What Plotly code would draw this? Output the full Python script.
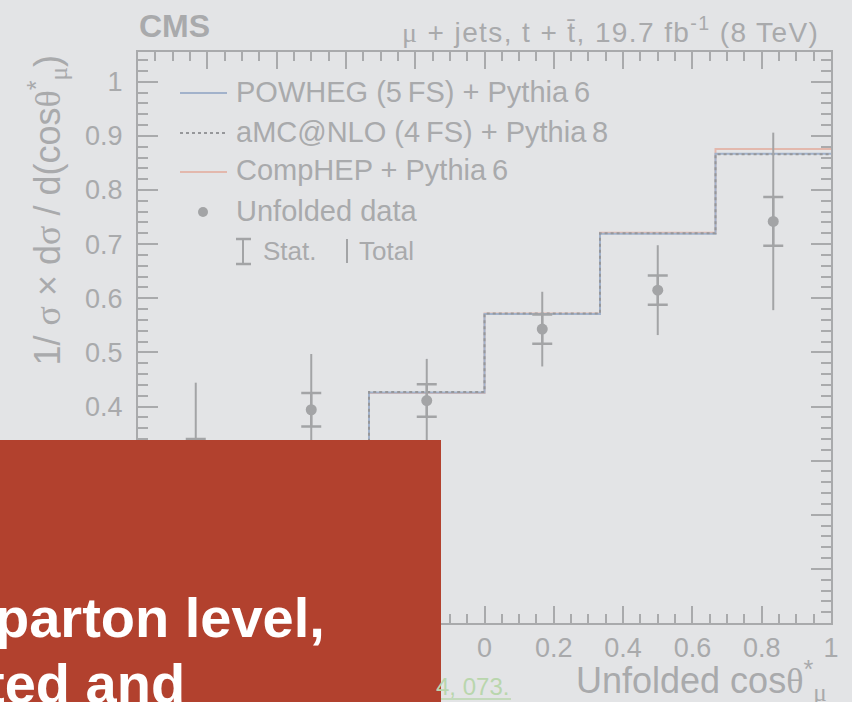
import plotly.graph_objects as go

# ---------------- data ----------------
bin_edges = [-1, -2/3, -1/3, 0, 1/3, 2/3, 1]
powheg = [0.140, 0.285, 0.426, 0.571, 0.719, 0.867]
amcnlo = [0.141, 0.286, 0.427, 0.572, 0.720, 0.866]
comphep = [0.132, 0.280, 0.425, 0.572, 0.721, 0.876]
data_x = [-5/6, -1/2, -1/6, 1/6, 1/2, 5/6]
data_y = [0.280, 0.394, 0.411, 0.543, 0.615, 0.742]
stat_err = [0.060, 0.031, 0.030, 0.027, 0.027, 0.045]
total_err = [0.164, 0.103, 0.077, 0.069, 0.083, 0.164]

# ---------------- styles ----------------
W, H = 852, 702
ML, MR, MT, MB = 138, 21, 52, 79
BG = '#e3e4e6'
GRAY = '#a9aaac'
DGRAY = '#a3a4a6'
BLUE = '#a2b2cb'
RED = '#e3b8ad'
DOT = '#96979a'
BOX = '#b2412e'
FONT = 'Liberation Sans, Arial, Helvetica, sans-serif'
SERIF = 'Liberation Serif'

def gk(s):
    return f"<span style=\"font-family:{SERIF}\">{s}</span>"

def px(x):
    return (x - ML) / (W - ML - MR)

def py(y):
    return (H - MB - y) / (H - MT - MB)

fig = go.Figure()

def step(vals):
    return list(vals) + [vals[-1]]

fig.add_trace(go.Scatter(x=bin_edges, y=step(comphep), mode='lines', line_shape='hv',
                         line=dict(color=RED, width=2), showlegend=False, hoverinfo='skip'))
fig.add_trace(go.Scatter(x=bin_edges, y=step(powheg), mode='lines', line_shape='hv',
                         line=dict(color=BLUE, width=2), showlegend=False, hoverinfo='skip'))
fig.add_trace(go.Scatter(x=bin_edges, y=step(amcnlo), mode='lines', line_shape='hv',
                         line=dict(color=DOT, width=2, dash='dot'), showlegend=False, hoverinfo='skip'))
# total uncertainty
fig.add_trace(go.Scatter(x=data_x, y=data_y, mode='markers', marker=dict(size=1, color='rgba(0,0,0,0)'),
                         error_y=dict(type='data', array=total_err, visible=True, color=DGRAY,
                                      thickness=2, width=0),
                         showlegend=False, hoverinfo='skip'))
# stat uncertainty + points
fig.add_trace(go.Scatter(x=data_x, y=data_y, mode='markers', marker=dict(size=11, color=DGRAY),
                         error_y=dict(type='data', array=stat_err, visible=True, color=DGRAY,
                                      thickness=2.5, width=10),
                         showlegend=False, hoverinfo='skip'))

axis_common = dict(showline=True, linecolor=GRAY, linewidth=2, mirror='allticks',
                   ticks='inside', tickcolor=GRAY, tickwidth=2, showgrid=False, zeroline=False,
                   tickfont=dict(family=FONT, size=27, color=GRAY))

fig.update_xaxes(range=[-1, 1], dtick=0.2, tick0=-1, ticklen=17, ticklabelstandoff=0,
                 minor=dict(dtick=0.05, tick0=-1, ticks='inside', ticklen=9, tickcolor=GRAY, tickwidth=2),
                 **axis_common)
fig.update_yaxes(range=[0, 1.055], dtick=0.1, tick0=0, ticklen=20, ticklabelstandoff=8,
                 minor=dict(dtick=0.02, tick0=0, ticks='inside', ticklen=10, tickcolor=GRAY, tickwidth=2),
                 **axis_common)

ann = []
shapes = []

def text(x, y, s, size, color=GRAY, xanchor='left', yanchor='middle', bold=False, angle=0, family=FONT):
    if bold:
        s = f"<b>{s}</b>"
    ann.append(dict(x=px(x), y=py(y), xref='paper', yref='paper', text=s, showarrow=False,
                    xanchor=xanchor, yanchor=yanchor, textangle=angle,
                    font=dict(family=family, size=size, color=color)))

# titles
text(137, 26, 'CMS', 32, bold=True)
text(821, 30, "<span style=\"letter-spacing:1.4px\">" + f"{gk('μ')} + jets, t + t\u0304, 19.7 fb<sup>-1</sup> (8 TeV)" + "</span>",
     28, xanchor='right')
text(47, 52, f"1/ {gk('σ')} × d{gk('σ')} / d(cos{gk('θ')}<sup>*</sup><sub>{gk('μ')}</sub>)", 36,
     xanchor='center', yanchor='top', angle=-90)
text(829, 680, f"Unfolded cos{gk('θ')}<sup>*</sup><sub>{gk('μ')}</sub>", 36, xanchor='right')

# legend
def hline(x0, x1, y, color, dash='solid', width=2):
    shapes.append(dict(type='line', xref='paper', yref='paper', x0=px(x0), x1=px(x1), y0=py(y), y1=py(y),
                       line=dict(color=color, width=width, dash=dash), layer='above'))

def vline(x, y0, y1, color, width=2):
    shapes.append(dict(type='line', xref='paper', yref='paper', x0=px(x), x1=px(x), y0=py(y0), y1=py(y1),
                       line=dict(color=color, width=width), layer='above'))

hline(180, 227, 93, BLUE)
text(234, 92, 'POWHEG (5\u2009FS) + Pythia\u20096', 29)
hline(180, 227, 133, DOT, dash='dot')
text(234, 132, 'aMC@NLO (4\u2009FS) + Pythia\u20098', 29)
hline(180, 227, 172, RED)
text(234, 170, 'CompHEP + Pythia\u20096', 29)
shapes.append(dict(type='circle', xref='paper', yref='paper', xsizemode='pixel', ysizemode='pixel',
                   xanchor=px(203), yanchor=py(212), x0=-5, x1=5, y0=-5, y1=5,
                   fillcolor=DGRAY, line=dict(width=0), layer='above'))
text(234, 211, 'Unfolded data', 29)
vline(243, 238, 265, DGRAY)
hline(236, 251, 239, DGRAY, width=2.5)
hline(236, 251, 264, DGRAY, width=2.5)
text(261, 251, 'Stat.', 26)
vline(347, 239, 263, DGRAY)
text(357, 251, 'Total', 26)

# overlay box and page text
shapes.append(dict(type='rect', xref='paper', yref='paper', x0=px(-5), x1=px(441), y0=py(440), y1=py(710),
                   fillcolor=BOX, line=dict(width=0), layer='above'))
text(327, 617, 'parton level,', 56, color='white', xanchor='right', bold=True)
text(187, 683, 'ted and', 56, color='white', xanchor='right', bold=True)
text(511, 686, '4, 073.', 24, color='#b9d6ad', xanchor='right')
hline(441, 511, 699, '#b9d6ad', width=1.5)

fig.update_layout(width=W, height=H, margin=dict(l=ML, r=MR, t=MT, b=MB),
                  paper_bgcolor=BG, plot_bgcolor=BG, showlegend=False,
                  annotations=ann, shapes=shapes)

fig.write_html('out.html')
